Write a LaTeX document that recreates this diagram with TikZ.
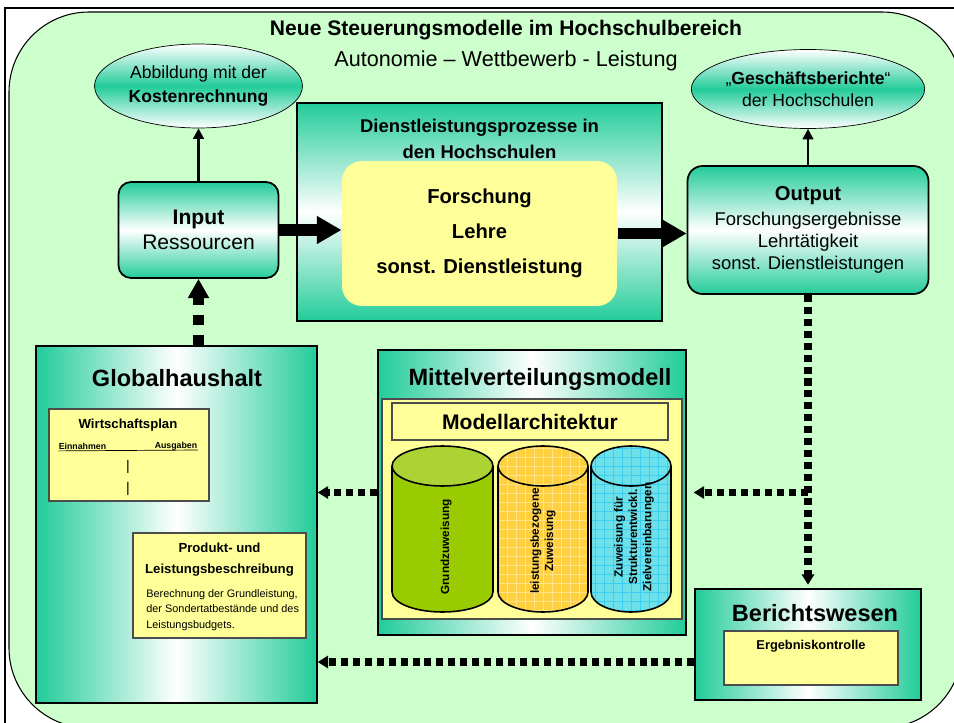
\documentclass[tikz,border=0pt]{standalone}
\usepackage{fontspec}
\setmainfont{Liberation Sans}
\usetikzlibrary{arrows.meta,positioning,shapes.geometric}
\definecolor{bggreen}{RGB}{204,255,204}
\definecolor{tgreen}{RGB}{34,204,153}
\definecolor{pyellow}{RGB}{255,255,153}
\definecolor{cylgreen}{RGB}{153,204,0}
\definecolor{cylgtop}{RGB}{172,210,52}
\definecolor{cylorange}{RGB}{255,208,64}
\definecolor{gridorange}{RGB}{255,228,140}
\definecolor{cylcyan}{RGB}{110,224,232}
\definecolor{gridcyan}{RGB}{60,205,240}
\newcommand{\fs}[2]{\fontsize{#1}{#2}\selectfont}
% #1 x centre, #2 half width, #3 body, #4 top, #5 grid lines
\newcommand{\zylinder}[5]{%
  \begin{scope}
    \clip (#1,466) ++(-#2,0) -- ++(0,126) arc[start angle=180,end angle=360,x radius=#2,y radius=0.4cm] -- ++(0,-126) -- cycle
          (#1,466) ellipse[x radius=#2,y radius=0.4cm];
    \fill[#3] (#1-60,430) rectangle (#1+60,620);
    \fill[#4] (#1,466) ellipse[x radius=#2,y radius=0.4cm];
    \foreach \i in {-7,...,7} \path[#5] (#1+\i*9,430) -- (#1+\i*9,620);
    \foreach \j in {0,...,21} \path[#5] (#1-60,430+\j*9) -- (#1+60,430+\j*9);
  \end{scope}
  \draw[line width=0.9pt] (#1,466) ++(-#2,0) -- ++(0,126) arc[start angle=180,end angle=360,x radius=#2,y radius=0.4cm] -- ++(0,-126);
  \draw[line width=0.9pt] (#1,466) ellipse[x radius=#2,y radius=0.4cm];
}

\begin{document}
\begin{tikzpicture}[x=0.02cm,y=-0.02cm,semithick]
  \tikzstyle{vbox}=[draw,line width=1pt,top color=tgreen,bottom color=tgreen,middle color=white,inner sep=0pt]
  \tikzstyle{hbox}=[draw,line width=0.8pt,left color=tgreen,right color=tgreen,middle color=white,inner sep=0pt]
  \tikzstyle{oval}=[ellipse,draw,thin,top color=white,bottom color=white,middle color=tgreen,inner sep=0pt,align=center]
  \tikzstyle{ybox}=[draw=black!70,line width=0.7pt,fill=pyellow,inner sep=0pt]
  \tikzstyle{dots}=[line width=4pt,dash pattern=on 4pt off 2.8pt,-{Triangle[length=6pt,width=7pt]}]
  \tikzstyle{bigdots}=[line width=5.7pt,dash pattern=on 5.7pt off 5.7pt,-{Triangle[length=11pt,width=11.5pt]}]
  \tikzstyle{fat}=[line width=6.8pt,-{Triangle[length=14pt,width=15pt]}]
  \tikzstyle{thinarr}=[line width=1.5pt,-{Triangle[length=6pt,width=6pt]}]
  \tikzstyle{cyltext}=[rotate=90,align=center,font=\bfseries\fs{6.7}{8.2}]

  \useasboundingbox (0,0) rectangle (954,723);
  \fill[white] (0,0) rectangle (954,723);
  \draw[line width=1.2pt] (5,730) -- (5,8) -- (960,8);
  \draw[fill=bggreen,rounded corners=1.6cm] (9,12) rectangle (962,728);

  % Kopf
  \node[font=\bfseries\fs{12}{14}] (title) at (506,30) {Neue Steuerungsmodelle im Hochschulbereich};
  \node[font=\fs{12.3}{14}] (subtitle) at (506,61) {Autonomie – Wettbewerb - Leistung};
  \node[oval,minimum width=4.16cm,minimum height=1.68cm,font=\fs{10}{13.6}] (kosten) at (198.5,86) {Abbildung mit der\\\textbf{Kostenrechnung}};
  \node[oval,minimum width=4.2cm,minimum height=1.58cm,font=\fs{10}{12.5}] (gesch) at (808,89) {„\textbf{Geschäftsberichte}“\\der Hochschulen};

  % Prozess
  \node[vbox,rounded corners=0.25cm,minimum width=3.2cm,minimum height=1.92cm,align=center,font=\fs{12}{14}] (inp) at (198.5,230) {\textbf{Input}\\Ressourcen};
  \node[vbox,line width=1.3pt,minimum width=7.3cm,minimum height=4.36cm] (dienst) at (479.5,212) {};
  \node[align=center,font=\bfseries\fs{10.5}{14.7}] (diensttitle) at (479.5,139) {Dienstleistungsprozesse in\\den Hochschulen};
  \node[fill=pyellow,rounded corners=0.4cm,minimum width=5.5cm,minimum height=2.9cm,align=center,font=\bfseries\fs{11.5}{20}] (proz) at (479.5,233.5) {Forschung\\Lehre\\sonst. Dienstleistung};
  \node[vbox,rounded corners=0.3cm,minimum width=4.82cm,minimum height=2.56cm,align=center,font=\fs{10.5}{12.5}] (outp) at (808,230) {{\bfseries\fs{11.5}{12.5}Output}\\[1.5pt]Forschungsergebnisse\\Lehrtätigkeit\\sonst. Dienstleistungen};

  % Globalhaushalt
  \node[hbox,minimum width=5.62cm,minimum height=7.14cm] (glob) at (176.5,524.5) {};
  \node[font=\bfseries\fs{13.4}{16}] (globtitle) at (177,378) {Globalhaushalt};
  \node[ybox,minimum width=3.2cm,minimum height=1.84cm] (wplan) at (129,455) {};
  \node[font=\bfseries\fs{7.5}{9}] (wplantitle) at (128,425) {Wirtschaftsplan};
  \node[font=\bfseries\fs{5}{6},inner sep=0pt] (einn) at (82.5,446) {Einnahmen};
  \node[font=\bfseries\fs{5}{6},inner sep=0pt] (ausg) at (176,446) {Ausgaben};
  \draw[thin] ([yshift=-1pt]einn.base west) -- ([yshift=-1pt]ausg.base east);
  \node[font=\fs{8}{9}] (bar1) at (128,467) {|};
  \node[font=\fs{8}{9}] (bar2) at (128,489) {|};
  \node[ybox,minimum width=3.46cm,minimum height=2.1cm] (prod) at (219.5,585.5) {};
  \node[align=center,font=\bfseries\fs{7.5}{12}] (prodtitle) at (219.5,559.5) {Produkt- und\\Leistungsbeschreibung};
  \node[align=left,anchor=west,font=\fs{6.2}{9}] (proddesc) at (140,610) {Berechnung der Grundleistung,\\der Sondertatbestände und des\\Leistungsbudgets.};

  % Mittelverteilung
  \node[hbox,minimum width=6.16cm,minimum height=5.7cm] (mittel) at (532,492.5) {};
  \node[font=\bfseries\fs{13.4}{16}] (mitteltitle) at (540,379) {Mittelverteilungsmodell};
  \node[ybox,minimum width=6cm,minimum height=4.4cm] (archbg) at (532,509) {};
  \node[ybox,minimum width=5.52cm,minimum height=0.74cm,font=\bfseries\fs{12}{14}] (arch) at (530,421.5) {Modellarchitektur};
  \zylinder{442.5}{1.01cm}{cylgreen}{cylgtop}{}
  \zylinder{543}{0.9cm}{cylorange}{cylorange}{draw=gridorange,line width=0.4pt}
  \zylinder{631}{0.8cm}{cylcyan}{cylcyan}{draw=gridcyan,line width=0.3pt}
  \node[cyltext] (grund) at (446,547) {Grundzuweisung};
  \node[cyltext] (leist) at (543,541) {leistungsbezogene\\Zuweisung};
  \node[cyltext] (struk) at (634,537) {Zuweisung für\\Strukturentwickl.\\Zielvereinbarungen};

  % Berichtswesen
  \node[hbox,minimum width=4.52cm,minimum height=2.22cm] (ber) at (808,644.5) {};
  \node[font=\bfseries\fs{13.4}{16}] (bertitle) at (815,613) {Berichtswesen};
  \node[ybox,minimum width=3.48cm,minimum height=1.08cm] (erg) at (811,658) {};
  \node[font=\bfseries\fs{7.3}{9}] (ergtext) at (811,646) {Ergebniskontrolle};

  % Pfeile
  \draw[thinarr] (inp) -- (kosten);
  \draw[thinarr] (outp) -- (gesch);
  \draw[fat] (inp.east) -- (inp.east -| proz.west);
  \draw[fat] (proz.east) -- (proz.east -| outp.west);
  \draw[bigdots] (inp.south |- glob.north) -- (inp.south);
  \coordinate (split) at (outp.south |- mittel.east);
  \coordinate (berout) at ([yshift=-0.35cm]ber.west);
  \draw[dots,shorten >=2pt] (outp) -- (ber);
  \draw[dots,shorten >=4pt] (split) -- (mittel.east);
  \draw[dots] (mittel.west) -- (mittel.west -| glob.east);
  \draw[dots] (berout) -- (berout -| glob.east);
\end{tikzpicture}
\end{document}
